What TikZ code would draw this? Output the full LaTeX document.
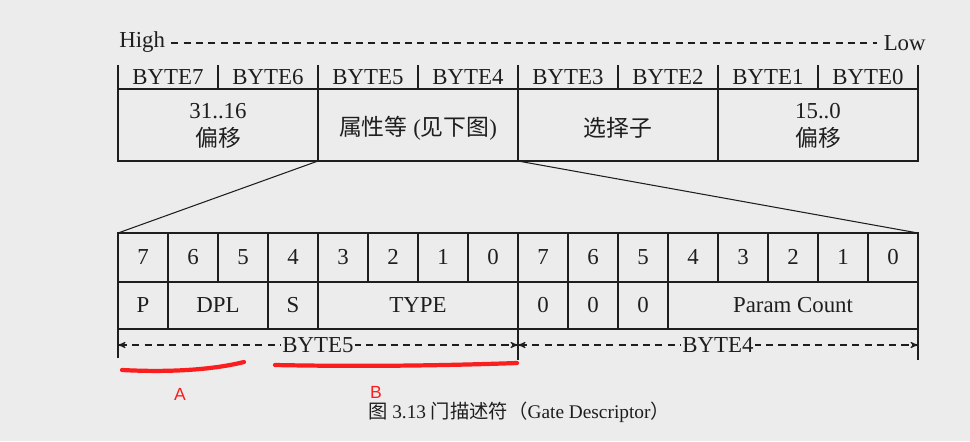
\documentclass[tikz,border=0pt]{standalone}
\usepackage{fontspec}
\usepackage{tikz}
\usetikzlibrary{arrows,calc}
\setmainfont{Liberation Serif}
\newfontfamily\cjk{Noto Sans CJK SC}
\newfontfamily\annfont{Liberation Sans}
\definecolor{paper}{RGB}{236,236,236}
\definecolor{ink}{RGB}{30,30,30}
\definecolor{redmark}{RGB}{250,30,30}
\tikzset{
  txt/.style={inner sep=0pt, text=ink, font=\fontsize{13}{15}\selectfont},
  gridline/.style={draw=ink, line width=0.8pt},
  dimline/.style={draw=ink, dash pattern=on 4pt off 3pt, line width=0.6pt, <->, >=stealth'},
  redpen/.style={draw=redmark, line width=2.4pt, line cap=round}
}

\begin{document}
\begin{tikzpicture}
\fill[paper] (0cm,0cm) rectangle (19.4cm,-8.82cm);
\useasboundingbox (0cm,0cm) rectangle (19.4cm,-8.82cm);

% High ---- Low
\node[txt, anchor=west] (high) at (2.38cm,-0.84cm) {High};
\node[txt, anchor=east] (low) at (18.52cm,-0.86cm) {Low};
\draw[ink, dash pattern=on 4pt off 3pt, line width=0.6pt] ($(high.east)+(0.12cm,-0.02cm)$) -- ($(low.west)+(-0.12cm,0cm)$);

% byte header
\draw[gridline] (2.36cm,-1.78cm) -- (18.36cm,-1.78cm);
\draw[gridline] (2.36cm,-1.30cm) -- (2.36cm,-1.78cm);
\draw[gridline] (4.36cm,-1.30cm) -- (4.36cm,-1.78cm);
\draw[gridline] (6.36cm,-1.30cm) -- (6.36cm,-1.78cm);
\draw[gridline] (8.36cm,-1.30cm) -- (8.36cm,-1.78cm);
\draw[gridline] (10.36cm,-1.30cm) -- (10.36cm,-1.78cm);
\draw[gridline] (12.36cm,-1.30cm) -- (12.36cm,-1.78cm);
\draw[gridline] (14.36cm,-1.30cm) -- (14.36cm,-1.78cm);
\draw[gridline] (16.36cm,-1.30cm) -- (16.36cm,-1.78cm);
\draw[gridline] (18.36cm,-1.30cm) -- (18.36cm,-1.78cm);
\node[txt] (b7) at (3.36cm,-1.54cm) {BYTE7};
\node[txt] (b6) at (5.36cm,-1.54cm) {BYTE6};
\node[txt] (b5) at (7.36cm,-1.54cm) {BYTE5};
\node[txt] (b4) at (9.36cm,-1.54cm) {BYTE4};
\node[txt] (b3) at (11.36cm,-1.54cm) {BYTE3};
\node[txt] (b2) at (13.36cm,-1.54cm) {BYTE2};
\node[txt] (b1) at (15.36cm,-1.54cm) {BYTE1};
\node[txt] (b0) at (17.36cm,-1.54cm) {BYTE0};

% descriptor fields
\draw[gridline] (2.36cm,-1.78cm) rectangle (18.36cm,-3.22cm);
\draw[gridline] (6.36cm,-1.78cm) -- (6.36cm,-3.22cm);
\draw[gridline] (10.36cm,-1.78cm) -- (10.36cm,-3.22cm);
\draw[gridline] (14.36cm,-1.78cm) -- (14.36cm,-3.22cm);
\node[txt, align=center] (offhi) at (4.36cm,-2.52cm) {31..16\\[1pt]{\cjk 偏移}};
\node[txt] (attr) at (8.36cm,-2.56cm) {{\cjk 属性等} ({\cjk 见下图})};
\node[txt] (sel) at (12.36cm,-2.56cm) {{\cjk 选择子}};
\node[txt, align=center] (offlo) at (16.36cm,-2.52cm) {15..0\\[1pt]{\cjk 偏移}};

% zoom lines
\coordinate (za) at (6.36cm,-3.22cm);
\coordinate (zb) at (10.36cm,-3.22cm);
\coordinate (zc) at (2.36cm,-4.66cm);
\coordinate (zd) at (18.36cm,-4.66cm);
\draw[ink, line width=0.6pt] (za) -- (zc);
\draw[ink, line width=0.6pt] (zb) -- (zd);

% bit table
\draw[gridline] (2.36cm,-4.66cm) rectangle (18.36cm,-6.58cm);
\draw[gridline] (2.36cm,-5.64cm) -- (18.36cm,-5.64cm);
\draw[gridline] (3.36cm,-4.66cm) -- (3.36cm,-6.58cm);
\draw[gridline] (4.36cm,-4.66cm) -- (4.36cm,-5.64cm);
\draw[gridline] (5.36cm,-4.66cm) -- (5.36cm,-6.58cm);
\draw[gridline] (6.36cm,-4.66cm) -- (6.36cm,-6.58cm);
\draw[gridline] (7.36cm,-4.66cm) -- (7.36cm,-5.64cm);
\draw[gridline] (8.36cm,-4.66cm) -- (8.36cm,-5.64cm);
\draw[gridline] (9.36cm,-4.66cm) -- (9.36cm,-5.64cm);
\draw[gridline] (10.36cm,-4.66cm) -- (10.36cm,-7.20cm);
\draw[gridline] (11.36cm,-4.66cm) -- (11.36cm,-6.58cm);
\draw[gridline] (12.36cm,-4.66cm) -- (12.36cm,-6.58cm);
\draw[gridline] (13.36cm,-4.66cm) -- (13.36cm,-6.58cm);
\draw[gridline] (14.36cm,-4.66cm) -- (14.36cm,-5.64cm);
\draw[gridline] (15.36cm,-4.66cm) -- (15.36cm,-5.64cm);
\draw[gridline] (16.36cm,-4.66cm) -- (16.36cm,-5.64cm);
\draw[gridline] (17.36cm,-4.66cm) -- (17.36cm,-5.64cm);
\draw[gridline] (2.36cm,-6.58cm) -- (2.36cm,-7.16cm);
\draw[gridline] (18.36cm,-6.58cm) -- (18.36cm,-7.20cm);

\node[txt] (h15) at (2.86cm,-5.14cm) {7};
\node[txt] (h14) at (3.86cm,-5.14cm) {6};
\node[txt] (h13) at (4.86cm,-5.14cm) {5};
\node[txt] (h12) at (5.86cm,-5.14cm) {4};
\node[txt] (h11) at (6.86cm,-5.14cm) {3};
\node[txt] (h10) at (7.86cm,-5.14cm) {2};
\node[txt] (h9) at (8.86cm,-5.14cm) {1};
\node[txt] (h8) at (9.86cm,-5.14cm) {0};
\node[txt] (h7) at (10.86cm,-5.14cm) {7};
\node[txt] (h6) at (11.86cm,-5.14cm) {6};
\node[txt] (h5) at (12.86cm,-5.14cm) {5};
\node[txt] (h4) at (13.86cm,-5.14cm) {4};
\node[txt] (h3) at (14.86cm,-5.14cm) {3};
\node[txt] (h2) at (15.86cm,-5.14cm) {2};
\node[txt] (h1) at (16.86cm,-5.14cm) {1};
\node[txt] (h0) at (17.86cm,-5.14cm) {0};

\node[txt] (fp) at (2.86cm,-6.10cm) {P};
\node[txt] (fdpl) at (4.36cm,-6.10cm) {DPL};
\node[txt] (fs) at (5.86cm,-6.10cm) {S};
\node[txt] (ftype) at (8.36cm,-6.10cm) {TYPE};
\node[txt] (fz7) at (10.86cm,-6.10cm) {0};
\node[txt] (fz6) at (11.86cm,-6.10cm) {0};
\node[txt] (fz5) at (12.86cm,-6.10cm) {0};
\node[txt] (fcount) at (15.86cm,-6.10cm) {Param Count};

% byte spans
\coordinate (s0) at (2.36cm,-6.90cm);
\coordinate (s1) at (10.36cm,-6.90cm);
\coordinate (s2) at (18.36cm,-6.90cm);
\draw[dimline] (s0) -- node[txt, fill=paper, inner xsep=1pt] (span5) {BYTE5} (s1);
\draw[dimline] (s1) -- node[txt, fill=paper, inner xsep=1pt] (span4) {BYTE4} (s2);

% red marks
\draw[redpen] (2.44cm,-7.40cm) .. controls (3.60cm,-7.46cm) and (4.40cm,-7.36cm) .. (4.88cm,-7.24cm);
\draw[redpen] (5.50cm,-7.30cm) .. controls (7.50cm,-7.34cm) and (9.20cm,-7.30cm) .. (10.34cm,-7.26cm);
\node[text=redmark, inner sep=0pt, font=\annfont\fontsize{10}{11}\selectfont] (markA) at (3.60cm,-7.88cm) {A};
\node[text=redmark, inner sep=0pt, font=\annfont\fontsize{10}{11}\selectfont] (markB) at (7.52cm,-7.84cm) {B};

% caption
\node[txt, font=\fontsize{11}{12}\selectfont] (cap) at (10.38cm,-8.25cm) {{\cjk 图} 3.13 {\cjk 门描述符（}Gate Descriptor{\cjk ）}};
\end{tikzpicture}
\end{document}
